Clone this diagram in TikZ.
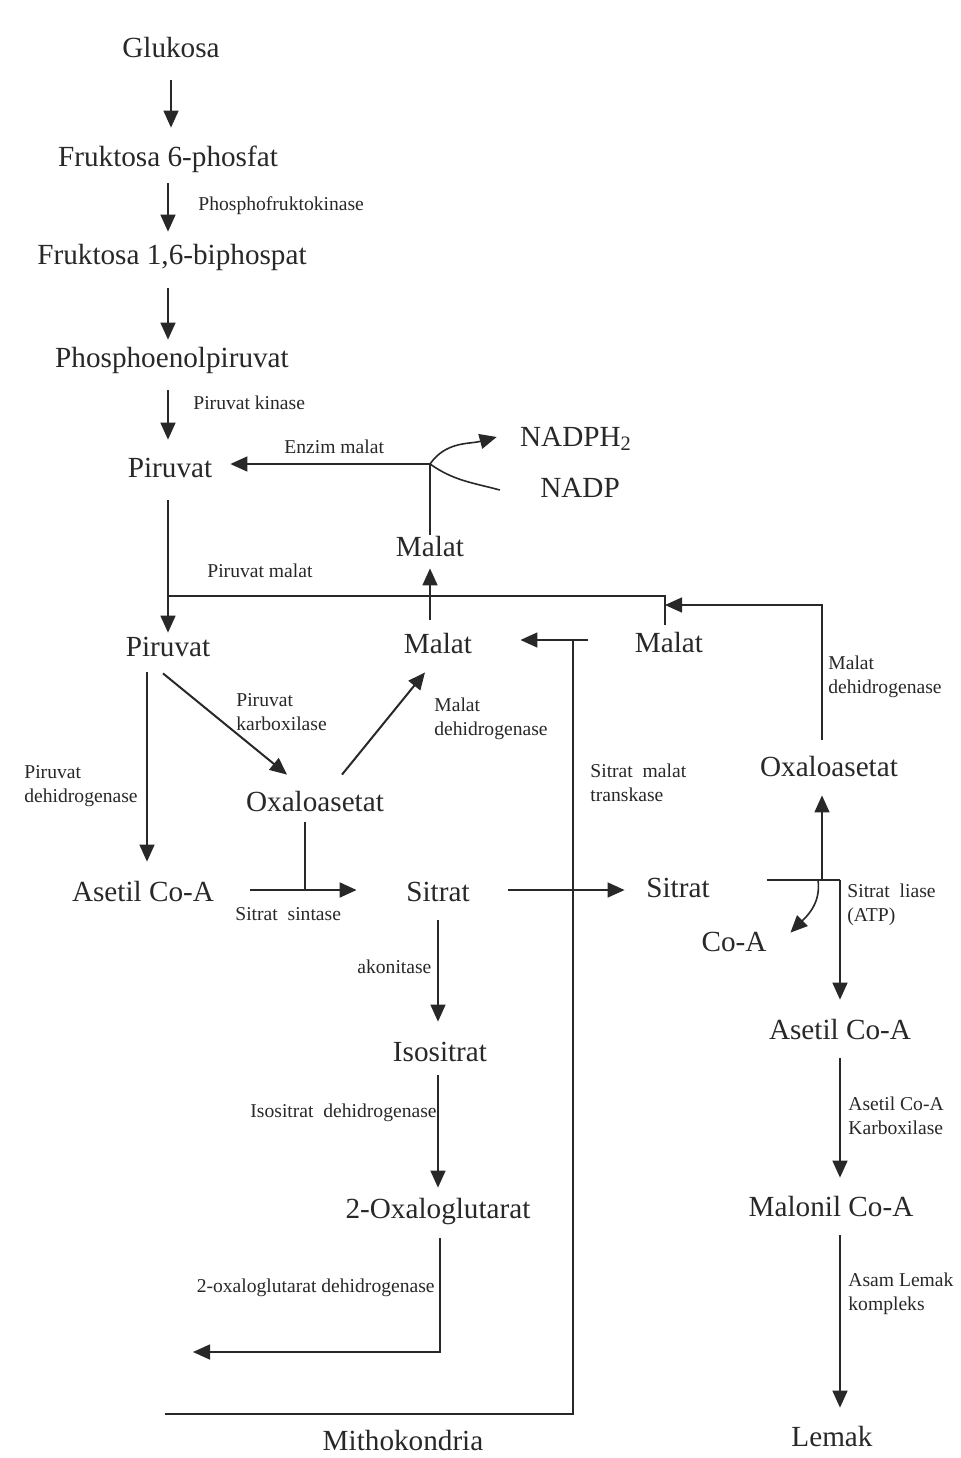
\documentclass[tikz,border=0pt]{standalone}
\usepackage{fontspec}
\setmainfont{Liberation Serif}
\usetikzlibrary{arrows.meta,calc}
\definecolor{ink}{RGB}{40,40,40}
\begin{document}
\begin{tikzpicture}[x=0.5pt,y=-0.5pt,
  big/.style={font=\fontsize{14.6}{17}\selectfont, inner sep=0pt, text height=10.2pt, text depth=3.2pt, anchor=base, text=ink},
  lbl/.style={font=\fontsize{9.8}{12}\selectfont, inner sep=0pt, align=left, anchor=north west, text=ink},
  ln/.style={draw=ink, line width=0.8pt},
  arr/.style={ln, -{Triangle[length=8.5pt,width=7.5pt]}},
]
\fill[white] (0,0) rectangle (961,1458);
\path[use as bounding box] (0,0) rectangle (961,1458);

% main nodes
\node[big] (glu) at (171,57) {Glukosa};
\node[big] (f6p) at (168,166) {Fruktosa 6-phosfat};
\node[big] (f16) at (172,264) {Fruktosa 1,6-biphospat};
\node[big] (pep) at (172,367) {Phosphoenolpiruvat};
\node[big] (pir1) at (170,477) {Piruvat};
\node[big] (nadph) at (576,446) {NADPH\textsubscript{2}};
\node[big] (nadp) at (580,497) {NADP};
\node[big] (mal1) at (430,556) {Malat};
\node[big] (pir2) at (168,656) {Piruvat};
\node[big] (mal2) at (438,653) {Malat};
\node[big] (mal3) at (669,652) {Malat};
\node[big] (oxa1) at (315,811) {Oxaloasetat};
\node[big] (oxa2) at (829,776) {Oxaloasetat};
\node[big] (ase1) at (143,901) {Asetil Co-A};
\node[big] (sit1) at (438,901) {Sitrat};
\node[big] (sit2) at (678,897) {Sitrat};
\node[big] (coa) at (734,951) {Co-A};
\node[big] (iso) at (440,1061) {Isositrat};
\node[big] (oxg) at (438,1218) {2-Oxaloglutarat};
\node[big] (ase2) at (840,1039) {Asetil Co-A};
\node[big] (mlc) at (831,1216) {Malonil Co-A};
\node[big] (mito) at (403,1450) {Mithokondria};
\node[big] (lem) at (832,1446) {Lemak};

% enzyme labels
\node[lbl] (l1) at (198,196) {Phosphofruktokinase};
\node[lbl] (l2) at (193,395) {Piruvat kinase};
\node[lbl] (l3) at (284,439) {Enzim malat};
\node[lbl] (l4) at (207,563) {Piruvat malat};
\node[lbl] (l5) at (236,693) {Piruvat\\karboxilase};
\node[lbl] (l6) at (434,697) {Malat\\dehidrogenase};
\node[lbl] (l7) at (24,765) {Piruvat\\dehidrogenase};
\node[lbl] (l8) at (590,763) {Sitrat\ \ malat\\transkase};
\node[lbl] (l9) at (828,655) {Malat\\dehidrogenase};
\node[lbl] (l10) at (235,907) {Sitrat\ \ sintase};
\node[lbl] (l11) at (847,883) {Sitrat\ \ liase\\(ATP)};
\node[lbl] (l12) at (357,959) {akonitase};
\node[lbl, anchor=north east] (l13) at (437,1103) {Isositrat\ \ dehidrogenase};
\node[lbl, anchor=north east] (l14) at (435,1278) {2-oxaloglutarat dehidrogenase};
\node[lbl] (l15) at (848,1096) {Asetil Co-A\\Karboxilase};
\node[lbl] (l16) at (848,1272) {Asam Lemak\\kompleks};

% junction coordinates
\coordinate (j1) at (430,464);
\coordinate (j2) at (305,890);
\coordinate (j3) at (822,880);
\coordinate (j4) at (840,880);
\coordinate (j5) at (818,880);
\coordinate (j6) at (665,596);
\coordinate (j7) at (168,596);
\coordinate (c1) at (822,605);
\coordinate (c2) at (440,1352);
\coordinate (e1) at (193,1352);
\coordinate (m1) at (588,640);
\coordinate (m2) at (573,640);
\coordinate (m3) at (573,1414);
\coordinate (m4) at (165,1414);

% glycolysis column
\draw[arr, shorten <=8.3pt, shorten >=8.8pt] (glu.south) -- (glu.south |- f6p.north);
\draw[arr, shorten <=5.3pt, shorten >=5.8pt] (f6p.south) -- (f6p.south |- f16.north);
\draw[arr, shorten <=8.8pt, shorten >=3.3pt] (f16.south -| f6p.south) -- (f6p.south |- pep.north);
\draw[arr, shorten <=8.3pt, shorten >=8.3pt] (pir2.north |- pep.south) -- (pir2.north |- pir1.north);
\draw[arr, shorten <=8.3pt, shorten >=1.3pt] (pir2.north |- pir1.south) -- (pir2.north);

% enzim malat and NADP
\draw[arr, shorten >=8.9pt] (j1) -- (j1 -| pir1.east);
\draw[ln] (mal1.north) -- (j1);
\draw[arr] (j1) to[out=55,in=195] ([xshift=-11.5pt,yshift=1pt]nadph.west);
\draw[ln] (j1) to[out=-35,in=165] ([xshift=-20pt]nadp.west);
\draw[arr, shorten <=6.3pt, shorten >=2.8pt] (mal2.north -| mal1.south) -- (mal1.south);

% piruvat malat shuttle
\draw[ln, shorten >=3.3pt] (j7) -- (j6) -- (j6 |- mal3.north);
\draw[arr, shorten <=7.8pt] (oxa2.north -| c1) -- (c1) -- (c1 -| j6);

% sitrat malat transkase / mitochondrion border
\draw[arr, shorten >=24pt] (m1) -- (m1 -| mal2.east);
\draw[ln] (m2) -- (m3) -- (m4);

% piruvat branches
\draw[arr, shorten <=4.8pt, shorten >=9.3pt] ($(pir2.south -| ase1.north)+(4,0)$) -- ($(ase1.north)+(4,0)$);
\draw[arr, line width=1pt] ([xshift=-2.5pt,yshift=-5.3pt]pir2.south) -- ([xshift=-14pt,yshift=7.8pt]oxa1.north);
\draw[arr, line width=1pt] ([xshift=13.5pt,yshift=7.8pt]oxa1.north) -- ([xshift=-6.5pt,yshift=-6.3pt]mal2.south);

% sitrat sintase
\draw[ln, shorten <=2.3pt] (j2 |- oxa1.south) -- (j2);
\draw[arr, line width=1pt, shorten <=18pt, shorten >=24.7pt] (j2 -| ase1.east) -- (j2 -| sit1.west);
\draw[arr, shorten <=19.2pt, shorten >=10.7pt] (j2 -| sit1.east) -- (j2 -| sit2.west);

% sitrat liase
\draw[ln, shorten <=28.7pt] (j4 -| sit2.east) -- (j4);
\draw[arr, shorten >=6.3pt] (j3) -- (j3 |- oxa2.south);
\draw[arr, shorten >=9.3pt] (j4) -- (j4 |- ase2.north);
\draw[arr] (j5) to[out=-82,in=45] ([xshift=11.8pt,yshift=-1.2pt]coa.north east);

% krebs cycle part
\draw[arr, shorten <=6.3pt, shorten >=9.3pt] (sit1.south) -- (sit1.south |- iso.north);
\draw[arr, shorten <=3.8pt, shorten >=4.8pt] (sit1.south |- iso.south) -- (sit1.south |- oxg.north);
\draw[arr, shorten <=6.8pt] (c2 |- oxg.south) -- (c2) -- (e1);

% fatty acid synthesis
\draw[arr, shorten <=6.3pt, shorten >=8.8pt] (ase2.south) -- (ase2.south |- mlc.north);
\draw[arr, shorten <=6.3pt, shorten >=8.8pt] (ase2.south |- mlc.south) -- (ase2.south |- lem.north);
\end{tikzpicture}
\end{document}
